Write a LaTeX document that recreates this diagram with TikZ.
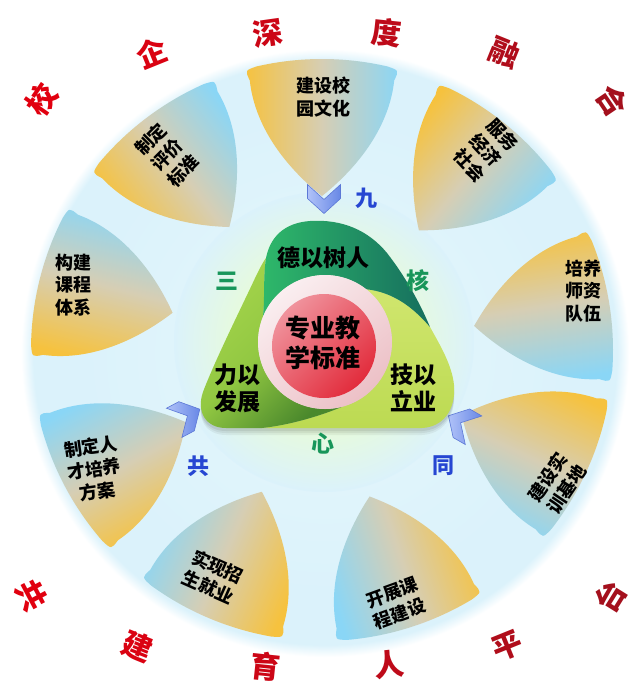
\documentclass[tikz,border=0pt]{standalone}
\usepackage{fontspec}
\newfontfamily\cjk{Noto Sans CJK SC}
\usetikzlibrary{calc}

\definecolor{ylw}{RGB}{246,194,62}
\definecolor{blu}{RGB}{138,214,246}
\definecolor{pmid}{RGB}{214,206,180}
\definecolor{bgc}{RGB}{219,242,251}
\definecolor{bgin}{RGB}{230,247,252}
\definecolor{glowc}{RGB}{230,250,222}
\definecolor{chevA}{RGB}{176,194,248}
\definecolor{chevB}{RGB}{104,136,230}
\definecolor{chevE}{RGB}{92,120,214}
\definecolor{topA}{RGB}{46,184,106}
\definecolor{topB}{RGB}{22,110,94}
\definecolor{rgtA}{RGB}{208,230,110}
\definecolor{rgtB}{RGB}{188,218,82}
\definecolor{lftA}{RGB}{166,213,76}
\definecolor{lftM}{RGB}{146,200,66}
\definecolor{lftB}{RGB}{74,136,44}
\definecolor{ringA}{RGB}{250,238,240}
\definecolor{ringB}{RGB}{236,192,198}
\definecolor{redA}{RGB}{240,146,156}
\definecolor{redB}{RGB}{226,44,60}
\definecolor{grn}{RGB}{24,150,90}
\definecolor{bluetxt}{RGB}{38,70,210}
\definecolor{ra}{RGB}{225,0,15}
\definecolor{rb}{RGB}{218,2,18}
\definecolor{rc}{RGB}{204,6,22}
\definecolor{rd}{RGB}{190,10,25}
\definecolor{re}{RGB}{176,13,27}
\definecolor{rf}{RGB}{164,16,29}

\pgfdeclareradialshading{glowshade}{\pgfpoint{0bp}{0bp}}{color(0bp)=(glowc); color(15bp)=(glowc); color(25bp)=(bgc); color(50bp)=(bgc)}
\pgfdeclareradialshading{bigshade}{\pgfpoint{0bp}{0bp}}{color(0bp)=(bgin); color(20bp)=(bgc); color(24bp)=(bgc); color(25bp)=(white); color(50bp)=(white)}

\tikzset{
  petal/.style={top color=ylw, bottom color=blu, middle color=pmid},
  chev/.style={left color=chevA, right color=chevB, draw=chevE, line width=0.6pt},
  ptxt/.style={font=\cjk\bfseries\fontsize{18}{22.5}\selectfont, align=center, inner sep=0pt, text=black},
  ctxt/.style={font=\cjk\bfseries\fontsize{23}{27}\selectfont, align=center, inner sep=0pt, text=black},
  mtxt/.style={font=\cjk\bfseries\fontsize{25}{30}\selectfont, align=center, inner sep=0pt, text=black},
  rtxt/.style={font=\cjk\bfseries\fontsize{30}{30}\selectfont, inner sep=0pt},
  gtxt/.style={font=\cjk\bfseries\fontsize{23}{23}\selectfont, inner sep=0pt, text=grn},
  btxt/.style={font=\cjk\bfseries\fontsize{22}{22}\selectfont, inner sep=0pt, text=bluetxt},
}

\begin{document}
\begin{tikzpicture}[x=1pt,y=1pt]
\useasboundingbox (0,0) rectangle (632,-686);
\fill[white] (0,0) rectangle (632,-686);

% big pale circle
\shade[shading=bigshade] (325,-353) circle (304);
% green glow
\shade[shading=glowshade] (324,-342) circle (150);

% petals
\coordinate (P0) at (322,-350);
\foreach \a in {90,51,9,-25,-72,-113,-152,166,127}{
  \shade[petal, shading angle=\a]
    ($(P0)+({\a+15}:279)$)
    .. controls ($(P0)+({\a+17}:228)$) and ($(P0)+({\a+9.5}:180)$) .. ($(P0)+(\a:154)$)
    .. controls ($(P0)+({\a-9.5}:180)$) and ($(P0)+({\a-17}:228)$) .. ($(P0)+({\a-15}:279)$)
    .. controls ($(P0)+({\a-15.4}:290)$) .. ($(P0)+({\a-13}:291)$)
    arc[start angle={\a-13}, end angle={\a+13}, radius=291]
    .. controls ($(P0)+({\a+15.4}:290)$) .. ($(P0)+({\a+15}:279)$) -- cycle;
}

% chevrons
\foreach \cx/\cy/\ang in {324/199/-90, 187/416/28, 461/423/150}{
  \begin{scope}[shift={(\cx,-\cy)}, rotate=\ang]
    \shade[chev] (-14.5,16.5) -- (-0.5,16.5) -- (14.5,0) -- (-0.5,-16.5) -- (-14.5,-16.5) -- (0.5,0) -- cycle;
  \end{scope}
}

% trefoil shadow
\foreach \s/\o in {7/0.05,5/0.06,3/0.07}{
  \fill[black, opacity=\o, shift={(0,-\s)}]
    (266,-258) .. controls (270,-238) and (283,-223) .. (310,-221)
    .. controls (342,-219) and (368,-230) .. (387,-253)
    .. controls (405,-276) and (420,-303) .. (430,-327)
    .. controls (440,-345) and (452,-365) .. (454,-385)
    .. controls (456,-410) and (443,-427) .. (422,-428) -- (226,-428)
    .. controls (206,-428) and (196,-412) .. (203,-392)
    .. controls (215,-360) and (245,-300) .. (256,-276)
    .. controls (260,-268) and (263,-262) .. (266,-258) -- cycle;
}

% right piece
\shade[top color=rgtA, bottom color=rgtB]
  (366.2,-289.2) .. controls (392,-292) and (412,-306) .. (430,-327)
  .. controls (440,-345) and (452,-365) .. (454,-385)
  .. controls (456,-410) and (443,-427) .. (422,-428) -- (262,-428)
  .. controls (290,-425) and (320,-416) .. (342.3,-406.7)
  arc[start angle=-75, end angle=52, radius=67] -- cycle;
% left piece
\shade[top color=lftA, bottom color=lftB, middle color=lftM, shading angle=45]
  (342.3,-406.7) .. controls (320,-416) and (290,-425) .. (262,-428) -- (226,-428)
  .. controls (206,-428) and (196,-412) .. (203,-392)
  .. controls (215,-360) and (245,-300) .. (256,-276)
  .. controls (260,-268) and (263,-262) .. (266,-258)
  .. controls (263,-278) and (265,-300) .. (262.9,-316.9)
  arc[start angle=158, end angle=285, radius=67] -- cycle;
% top piece
\shade[left color=topA, right color=topB]
  (262.9,-316.9) .. controls (265,-300) and (263,-278) .. (266,-258)
  .. controls (270,-238) and (283,-223) .. (310,-221)
  .. controls (342,-219) and (368,-230) .. (387,-253)
  .. controls (405,-276) and (420,-303) .. (430,-327)
  .. controls (412,-306) and (392,-292) .. (366.2,-289.2)
  arc[start angle=52, end angle=158, radius=67] -- cycle;

% ring and centre
\shade[top color=ringA, bottom color=ringB, shading angle=40] (325,-342) circle (67);
\shade[top color=redA, bottom color=redB, shading angle=45] (324,-346) circle (52);

% centre texts
\node[mtxt] (core) at (323,-343) {专业教\\学标准};
\node[ctxt] (t1) at (323,-258) {德以树人};
\node[ctxt] (t2) at (237,-388) {力以\\发展};
\node[ctxt] (t3) at (413,-388) {技以\\立业};

% green and blue characters
\node[gtxt] (g1) at (227,-281) {三};
\node[gtxt] (g2) at (418,-281) {核};
\node[gtxt] (g3) at (323,-444) {心};
\node[btxt] (b1) at (366,-198) {九};
\node[btxt] (b2) at (198,-466) {共};
\node[btxt] (b3) at (443,-466) {同};

% petal texts
\node[ptxt] (p1) at (323,-97) {建设校\\园文化};
\node[ptxt, rotate=-47] (p2) at (486,-150) {服务\\经济\\社会};
\node[ptxt] (p3) at (583,-291) {培养\\师资\\队伍};
\node[ptxt, rotate=56] (p4) at (557,-483) {建设实\\训基地};
\node[ptxt, rotate=20] (p5) at (396,-603) {开展课\\程建设};
\node[ptxt, rotate=-24] (p6) at (213,-577) {实现招\\生就业};
\node[ptxt, rotate=8] (p7) at (94,-469) {制定人\\才培养\\方案};
\node[ptxt] (p8) at (73,-285) {构建\\课程\\体系};
\node[ptxt, rotate=45] (p9) at (167,-155) {制定\\评价\\标准};

% outer red characters
\foreach \n/\x/\y/\r/\c/\t in {
  o1/42/100/55/ra/校, o2/152/53/22/rb/企, o3/268/33/8/rc/深,
  o4/387/33/-6/rd/度, o5/505/53/-22/re/融, o6/612/100/-56/rf/合,
  u1/32/595/-62/ra/共, u2/138/647/-22/rb/建, u3/266/666/-6/rc/育,
  u4/389/665/6/rd/人, u5/507/646/22/re/平, u6/610/597/58/rf/台}{
  \node[rtxt, text=\c, rotate=\r] (\n) at (\x,-\y) {\t};
}
\end{tikzpicture}
\end{document}
